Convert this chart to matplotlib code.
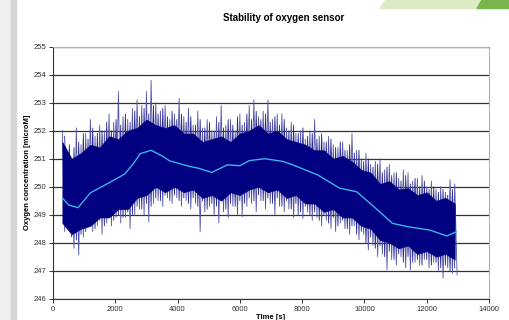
import matplotlib.pyplot as plt
from matplotlib.patches import Polygon, Rectangle

plt.rcParams['font.family'] = ['Liberation Sans', 'DejaVu Sans']

# sampled time axis for the large noise peaks (s)
time_s = list(range(300, 12901, 150))

# upper noise peaks (microM)
spike_hi = [252.0, 251.2, 251.0, 252.1, 251.5, 251.9, 252.4, 251.8, 252.2, 252.0,
            252.6, 252.3, 253.4, 252.5, 252.4, 252.8, 253.1, 252.9, 253.4, 253.8,
            253.0, 252.7, 252.9, 252.4, 252.6, 253.15, 252.5, 252.8, 252.2, 252.7,
            252.1, 252.4, 252.0, 252.5, 252.9, 252.2, 252.4, 252.0, 252.6, 252.3,
            252.9, 253.1, 252.5, 252.7, 253.1, 252.4, 252.6, 252.6, 252.1, 252.3,
            251.9, 252.0, 251.7, 252.0, 252.4, 251.8, 251.6, 251.8, 251.5, 251.4,
            251.6, 251.3, 251.9, 251.3, 251.0, 251.2, 250.8, 250.9, 251.0, 250.6,
            250.8, 250.5, 250.3, 250.6, 250.5, 250.2, 250.3, 250.4, 250.0, 250.2,
            249.9, 250.0, 249.8, 250.25, 250.1]

# lower noise peaks (microM)
spike_lo = [248.4, 248.9, 247.8, 247.56, 248.2, 248.6, 248.4, 248.6, 248.3, 248.7,
            248.6, 248.9, 248.7, 248.9, 248.5, 249.0, 249.2, 249.0, 248.75, 249.4,
            249.5, 249.3, 249.6, 249.4, 249.6, 249.3, 249.5, 249.2, 249.4, 248.4,
            249.1, 249.3, 249.0, 248.7, 249.1, 248.9, 249.3, 249.0, 248.93, 249.3,
            249.4, 249.1, 249.5, 249.2, 249.4, 249.0, 249.3, 249.1, 249.2, 248.9,
            249.0, 248.87, 249.1, 248.8, 248.9, 248.6, 248.8, 248.5, 248.4, 248.7,
            248.5, 248.3, 248.6, 248.1, 248.3, 247.74, 247.9, 247.5, 247.6, 247.03,
            247.4, 247.2, 247.5, 247.1, 247.03, 247.3, 247.2, 247.4, 247.1, 247.3,
            247.0, 246.73, 247.1, 246.9, 246.85]

# smaller peaks in between
time_s2 = list(range(375, 12826, 150))
spike_hi2 = [251.8, 251.5, 251.4, 251.6, 251.9, 251.7, 252.1, 251.9, 252.0, 252.3,
             252.0, 252.4, 252.2, 252.6, 252.3, 252.7, 252.5, 252.8, 252.6, 252.9,
             252.6, 252.8, 252.5, 252.7, 252.4, 252.6, 252.3, 252.5, 252.2, 252.4,
             252.1, 252.3, 252.0, 252.3, 252.1, 252.4, 252.2, 252.5, 252.2, 252.6,
             252.4, 252.7, 252.4, 252.6, 252.3, 252.5, 252.2, 252.4, 252.0, 252.2,
             251.9, 252.1, 251.8, 251.9, 251.7, 251.9, 251.6, 251.7, 251.4, 251.6,
             251.3, 251.5, 251.2, 251.3, 250.9, 251.0, 250.7, 250.8, 250.5, 250.7,
             250.4, 250.5, 250.2, 250.4, 250.1, 250.3, 250.0, 250.2, 249.9, 250.0,
             249.8, 249.9, 249.7, 249.9]
spike_lo2 = [248.6, 248.2, 248.1, 248.3, 248.4, 248.7, 248.5, 248.8, 248.6, 248.9,
             248.8, 249.0, 248.9, 249.1, 249.0, 249.3, 249.2, 249.4, 249.3, 249.6,
             249.5, 249.7, 249.5, 249.7, 249.5, 249.6, 249.4, 249.6, 249.3, 249.5,
             249.2, 249.4, 249.3, 249.5, 249.2, 249.4, 249.3, 249.5, 249.4, 249.6,
             249.5, 249.7, 249.5, 249.6, 249.4, 249.6, 249.3, 249.5, 249.2, 249.4,
             249.1, 249.3, 249.0, 249.1, 248.8, 249.0, 248.7, 248.9, 248.6, 248.8,
             248.5, 248.6, 248.3, 248.4, 248.0, 248.2, 247.8, 247.9, 247.5, 247.7,
             247.4, 247.6, 247.3, 247.5, 247.3, 247.4, 247.2, 247.4, 247.2, 247.3,
             247.1, 247.2, 247.0, 247.1]

# dense (solid) part of the signal band
core_time = list(range(300, 12901, 300))
core_hi = [251.6, 251.0, 251.2, 251.5, 251.4, 251.8, 251.7, 252.0, 252.1, 252.4,
           252.2, 252.1, 252.2, 251.9, 251.9, 251.6, 251.7, 251.8, 251.6, 251.9,
           252.0, 252.2, 251.9, 252.0, 251.7, 251.6, 251.5, 251.3, 251.3, 251.0,
           251.1, 250.9, 250.6, 250.5, 250.1, 250.2, 249.9, 249.95, 249.7, 249.8,
           249.5, 249.6, 249.4]
core_lo = [248.7, 248.3, 248.5, 248.6, 248.9, 248.9, 249.2, 249.2, 249.6, 249.7,
           250.0, 249.8, 250.0, 249.8, 249.9, 249.6, 249.7, 249.5, 249.8, 249.7,
           249.9, 250.0, 249.8, 249.9, 249.6, 249.7, 249.4, 249.4, 249.1, 249.2,
           248.9, 248.9, 248.6, 248.5, 248.1, 248.0, 247.8, 247.9, 247.6, 247.7,
           247.5, 247.6, 247.4]

# moving average (cyan line)
avg_time = [300, 500, 800, 1200, 1800, 2300, 2600, 2800, 3150, 3500, 3750, 4300,
            4700, 5100, 5600, 6000, 6300, 6800, 7400, 7700, 8100, 8500, 9200, 9750,
            10300, 10900, 11400, 12100, 12650, 12950]
avg_val = [249.6, 249.35, 249.25, 249.78, 250.14, 250.45, 250.85, 251.18, 251.3, 251.1,
           250.92, 250.75, 250.65, 250.51, 250.78, 250.75, 250.93, 251.0, 250.9, 250.78,
           250.6, 250.42, 249.95, 249.82, 249.29, 248.69, 248.57, 248.45, 248.24, 248.39]

fig = plt.figure(figsize=(5.09, 3.2), dpi=100)
fig.patch.set_facecolor('white')

# slide decoration: grey side bar and green banner
fig.patches.append(Rectangle((0, 0), 11 / 509, 1, transform=fig.transFigure,
                             color='#efefef', zorder=0))
fig.patches.append(Rectangle((11 / 509, 0), 5 / 509, 1, transform=fig.transFigure,
                             color='#d6d6d6', zorder=0))
fig.patches.append(Polygon([(380 / 509, 1 - 8.5 / 320), (386 / 509, 1), (482 / 509, 1),
                            (477 / 509, 1 - 8.5 / 320)], closed=True,
                           transform=fig.transFigure, color='#dcebc4', zorder=0))
fig.patches.append(Polygon([(477 / 509, 1 - 8.5 / 320), (482 / 509, 1), (1, 1),
                            (1, 1 - 8.5 / 320)], closed=True,
                           transform=fig.transFigure, color='#78b44c', zorder=0))

ax = fig.add_axes([53 / 509, 1 - 298.7 / 320, 436 / 509, 252 / 320])


def zigzag(times, highs, lows):
    xs, ys = [], []
    for t, hi, lo in zip(times, highs, lows):
        xs += [t, t + 75]
        ys += [hi, lo]
    return xs, ys


ax.plot(*zigzag(time_s, spike_hi, spike_lo), color='#5050a8', lw=0.6, zorder=2)
ax.plot(*zigzag(time_s2, spike_hi2, spike_lo2), color='#2a2a94', lw=0.6, zorder=2)
ax.fill_between(core_time, core_lo, core_hi, color='#000080', lw=0.4,
                edgecolor='#000080', zorder=2)
ax.plot(avg_time, avg_val, color='#3cb4e6', lw=1.0, zorder=3)

ax.set_xlim(0, 14000)
ax.set_ylim(246, 255)
ax.set_xticks(range(0, 14001, 2000))
ax.set_yticks(range(246, 256))
ax.yaxis.grid(True, color='#333333', lw=0.9)
ax.set_axisbelow(True)

for s in ['top', 'right']:
    ax.spines[s].set_color('#b0b0b0')
for s in ['left', 'bottom']:
    ax.spines[s].set_color('#333333')
ax.tick_params(labelsize=5.5, labelcolor='#333333', color='#333333',
               length=3, width=0.7, pad=2)

fig.text(284 / 509, 1 - 18 / 320, 'Stability of oxygen sensor', fontsize=7,
         fontweight='bold', ha='center', va='center')
ax.set_ylabel('Oxygen concentration [microM]', fontsize=5.5, fontweight='bold', labelpad=2)
ax.set_xlabel('Time [s]', fontsize=5.5, fontweight='bold', labelpad=1)

fig.savefig('out.png', dpi=100)
